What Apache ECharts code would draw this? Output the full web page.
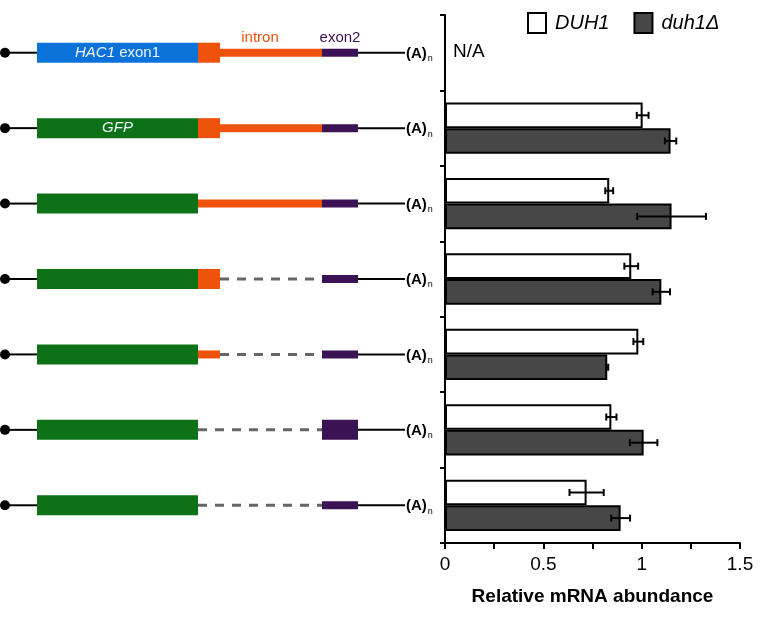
<!DOCTYPE html>
<html>
<head>
<meta charset="utf-8">
<script src="https://cdn.jsdelivr.net/npm/echarts@6.0.0/dist/echarts.min.js"></script>
<style>
  html, body { margin: 0; padding: 0; background: #fff; }
  #chart { width: 769px; height: 624px; }
</style>
</head>
<body>
<div id="chart"></div>
<script>
// constructs, top to bottom
const constructs = [
  'HAC1 exon1-intron-exon2',
  'GFP-intron-exon2',
  'GFP-intron(no 5\' box)-exon2',
  'GFP-box-Δintron-exon2',
  'GFP-short box-Δintron-exon2',
  'GFP-Δintron-long exon2',
  'GFP-Δintron-exon2'
];
// relative mRNA abundance (null = N/A)
const duh1 = [null, 1.005, 0.835, 0.947, 0.983, 0.846, 0.72];
const duh1Err = [null, 0.03, 0.02, 0.035, 0.025, 0.026, 0.087];
const duh1d = [null, 1.147, 1.152, 1.10, 0.825, 1.01, 0.893];
const duh1dErr = [null, 0.029, 0.175, 0.044, 0.005, 0.07, 0.048];
const xTicks = [0, 0.5, 1, 1.5];

// schematic pieces: [row, start, end, part, shape, label]
const segments = [
  [0, 37, 198, 'hac1', 'box', '{i|HAC1} exon1'],
  [0, 198, 322, 'intron', 'thin', 'intron'],
  [0, 198, 220, 'intron', 'box', ''],
  [0, 322, 358, 'exon2', 'thin', 'exon2'],
  [1, 37, 198, 'gfp', 'box', '{i|GFP}'],
  [1, 198, 322, 'intron', 'thin', ''],
  [1, 198, 220, 'intron', 'box', ''],
  [1, 322, 358, 'exon2', 'thin', ''],
  [2, 37, 198, 'gfp', 'box', ''],
  [2, 198, 322, 'intron', 'thin', ''],
  [2, 322, 358, 'exon2', 'thin', ''],
  [3, 37, 198, 'gfp', 'box', ''],
  [3, 198, 220, 'intron', 'box', ''],
  [3, 220, 322, 'deleted', 'dash', ''],
  [3, 322, 358, 'exon2', 'thin', ''],
  [4, 37, 198, 'gfp', 'box', ''],
  [4, 198, 220, 'intron', 'thin', ''],
  [4, 220, 322, 'deleted', 'dash', ''],
  [4, 322, 358, 'exon2', 'thin', ''],
  [5, 37, 198, 'gfp', 'box', ''],
  [5, 198, 322, 'deleted', 'dash', ''],
  [5, 322, 358, 'exon2', 'box', ''],
  [6, 37, 198, 'gfp', 'box', ''],
  [6, 198, 322, 'deleted', 'dash', ''],
  [6, 322, 358, 'exon2', 'thin', '']
];
const capPos = 5;
const polyAPos = 405;

const partColor = {
  hac1: '#0b72da',
  gfp: '#0d7117',
  intron: '#ef520b',
  exon2: '#3b1253',
  deleted: '#666666'
};
const FONT = 'Liberation Sans, Arial, sans-serif';

var myChart = echarts.init(document.getElementById('chart'));

function renderSegment(params, api) {
  const s = segments[params.dataIndex];
  const p0 = api.coord([api.value(0), api.value(2)]);
  const p1 = api.coord([api.value(1), api.value(2)]);
  const shape = s[4];
  const color = partColor[s[3]];
  const children = [];
  if (shape === 'dash') {
    children.push({
      type: 'line',
      shape: { x1: p0[0], y1: p0[1], x2: p1[0], y2: p1[1] },
      style: { stroke: color, lineWidth: 3, lineDash: [9, 8] }
    });
  } else {
    const h = shape === 'box' ? 20 : 8;
    children.push({
      type: 'rect',
      shape: { x: p0[0], y: p0[1] - h / 2, width: p1[0] - p0[0], height: h },
      style: { fill: color }
    });
  }
  if (s[5]) {
    const inside = shape === 'box';
    children.push({
      type: 'text',
      x: (p0[0] + p1[0]) / 2,
      y: inside ? p0[1] : p0[1] - 15,
      style: {
        text: s[5],
        fill: inside ? '#eef4ff' : color,
        fontSize: 15,
        fontFamily: FONT,
        align: 'center',
        verticalAlign: 'middle',
        rich: { i: { fontStyle: 'italic', fontSize: 15, fontFamily: FONT, fill: inside ? '#eef4ff' : color } }
      }
    });
  }
  return { type: 'group', children: children };
}

function renderBackbone(params, api) {
  const row = api.value(2);
  const rowSegs = segments.filter(s => s[0] === row);
  const first = Math.min.apply(null, rowSegs.map(s => s[1]));
  const last = Math.max.apply(null, rowSegs.map(s => s[2]));
  const cap = api.coord([api.value(0), row]);
  const a = api.coord([first, row]);
  const b = api.coord([last, row]);
  const tail = api.coord([api.value(1), row]);
  return {
    type: 'group',
    children: [
      { type: 'line', shape: { x1: cap[0], y1: cap[1], x2: a[0], y2: a[1] }, style: { stroke: '#000', lineWidth: 2 } },
      { type: 'line', shape: { x1: b[0], y1: b[1], x2: tail[0], y2: tail[1] }, style: { stroke: '#000', lineWidth: 2 } },
      { type: 'circle', shape: { cx: cap[0], cy: cap[1], r: 5 }, style: { fill: '#000' } },
      {
        type: 'text', x: tail[0] + 1, y: tail[1] + 1,
        style: {
          text: '(A){s|n}', fill: '#000', fontSize: 15, fontWeight: 'bold', fontFamily: FONT,
          verticalAlign: 'middle',
          rich: { s: { fontSize: 9, fontWeight: 'normal', fontFamily: FONT, padding: [10, 0, 0, 1] } }
        }
      }
    ]
  };
}

function renderErr(params, api) {
  const cat = api.value(0), v = api.value(1), e = api.value(2), k = api.value(3);
  const band = api.size([0, 1])[1];
  const off = (k === 0 ? -1 : 1) * band * 0.17;
  const a = api.coord([v - e, cat]);
  const b = api.coord([v + e, cat]);
  const y = a[1] + off;
  const st = { stroke: '#000', lineWidth: 2 };
  return {
    type: 'group',
    children: [
      { type: 'line', shape: { x1: a[0], y1: y, x2: b[0], y2: y }, style: st },
      { type: 'line', shape: { x1: a[0], y1: y - 3.5, x2: a[0], y2: y + 3.5 }, style: st },
      { type: 'line', shape: { x1: b[0], y1: y - 3.5, x2: b[0], y2: y + 3.5 }, style: st }
    ]
  };
}

function renderNA(params, api) {
  const p = api.coord([api.value(0), api.value(1)]);
  return {
    type: 'text', x: p[0] + 8, y: p[1] - 1,
    style: { text: 'N/A', fill: '#000', fontSize: 19, fontFamily: FONT, verticalAlign: 'middle' }
  };
}

const errData = [];
duh1.forEach((v, i) => { if (v != null) errData.push([i, v, duh1Err[i], 0]); });
duh1d.forEach((v, i) => { if (v != null) errData.push([i, v, duh1dErr[i], 1]); });
const naData = duh1.map((v, i) => (v == null ? [0, i] : null)).filter(Boolean);

const option = {
  animation: false,
  textStyle: { fontFamily: FONT },
  legend: {
    data: ['DUH1', 'duh1Δ'],
    left: 527,
    top: 12,
    padding: 0,
    itemWidth: 18,
    itemHeight: 20,
    itemGap: 24,
    icon: 'rect',
    textStyle: { fontSize: 20, fontStyle: 'italic', color: '#000', fontFamily: FONT, padding: [0, 0, 0, 4] }
  },
  grid: [
    { left: 0, width: 440, top: 15, bottom: 81 },
    { left: 445, right: 29, top: 15, bottom: 81 }
  ],
  xAxis: [
    { gridIndex: 0, type: 'value', min: 0, max: 440, show: false },
    {
      gridIndex: 1,
      type: 'value',
      min: 0,
      max: 1.5,
      interval: 0.25,
      name: 'Relative mRNA abundance',
      nameLocation: 'middle',
      nameGap: 44,
      nameTextStyle: { fontSize: 19, fontWeight: 'bold', color: '#000', fontFamily: FONT },
      axisLine: { show: true, lineStyle: { color: '#000', width: 2 } },
      axisTick: { show: true, length: 6, lineStyle: { color: '#000', width: 2 } },
      axisLabel: {
        fontSize: 19, color: '#000', margin: 12, fontFamily: FONT,
        formatter: v => (xTicks.indexOf(v) >= 0 ? String(v) : '')
      },
      splitLine: { show: false }
    }
  ],
  yAxis: [
    { gridIndex: 0, type: 'category', data: constructs, inverse: true, show: false },
    {
      gridIndex: 1,
      type: 'category',
      data: constructs,
      inverse: true,
      axisLine: { show: true, lineStyle: { color: '#000', width: 2 } },
      axisTick: { show: true, length: 5, lineStyle: { color: '#000', width: 2 } },
      axisLabel: { show: false }
    }
  ],
  series: [
    {
      type: 'custom',
      xAxisIndex: 0, yAxisIndex: 0,
      renderItem: renderBackbone,
      data: constructs.map((c, i) => [capPos, polyAPos, i]),
      encode: { x: [0, 1], y: 2 },
      silent: true
    },
    {
      type: 'custom',
      xAxisIndex: 0, yAxisIndex: 0,
      renderItem: renderSegment,
      data: segments.map(s => [s[1], s[2], s[0]]),
      encode: { x: [0, 1], y: 2 },
      silent: true
    },
    {
      name: 'DUH1',
      type: 'bar',
      xAxisIndex: 1, yAxisIndex: 1,
      data: duh1,
      barCategoryGap: '32%',
      barGap: '0%',
      itemStyle: { color: '#ffffff', borderColor: '#000', borderWidth: 2 }
    },
    {
      name: 'duh1Δ',
      type: 'bar',
      xAxisIndex: 1, yAxisIndex: 1,
      data: duh1d,
      barCategoryGap: '32%',
      barGap: '0%',
      itemStyle: { color: '#474747', borderColor: '#000', borderWidth: 2 }
    },
    {
      type: 'custom',
      xAxisIndex: 1, yAxisIndex: 1,
      renderItem: renderErr,
      data: errData,
      encode: { x: 1, y: 0 },
      z: 5,
      silent: true
    },
    {
      type: 'custom',
      xAxisIndex: 1, yAxisIndex: 1,
      renderItem: renderNA,
      data: naData,
      encode: { x: 0, y: 1 },
      silent: true
    }
  ]
};

myChart.setOption(option);
</script>
</body>
</html>
